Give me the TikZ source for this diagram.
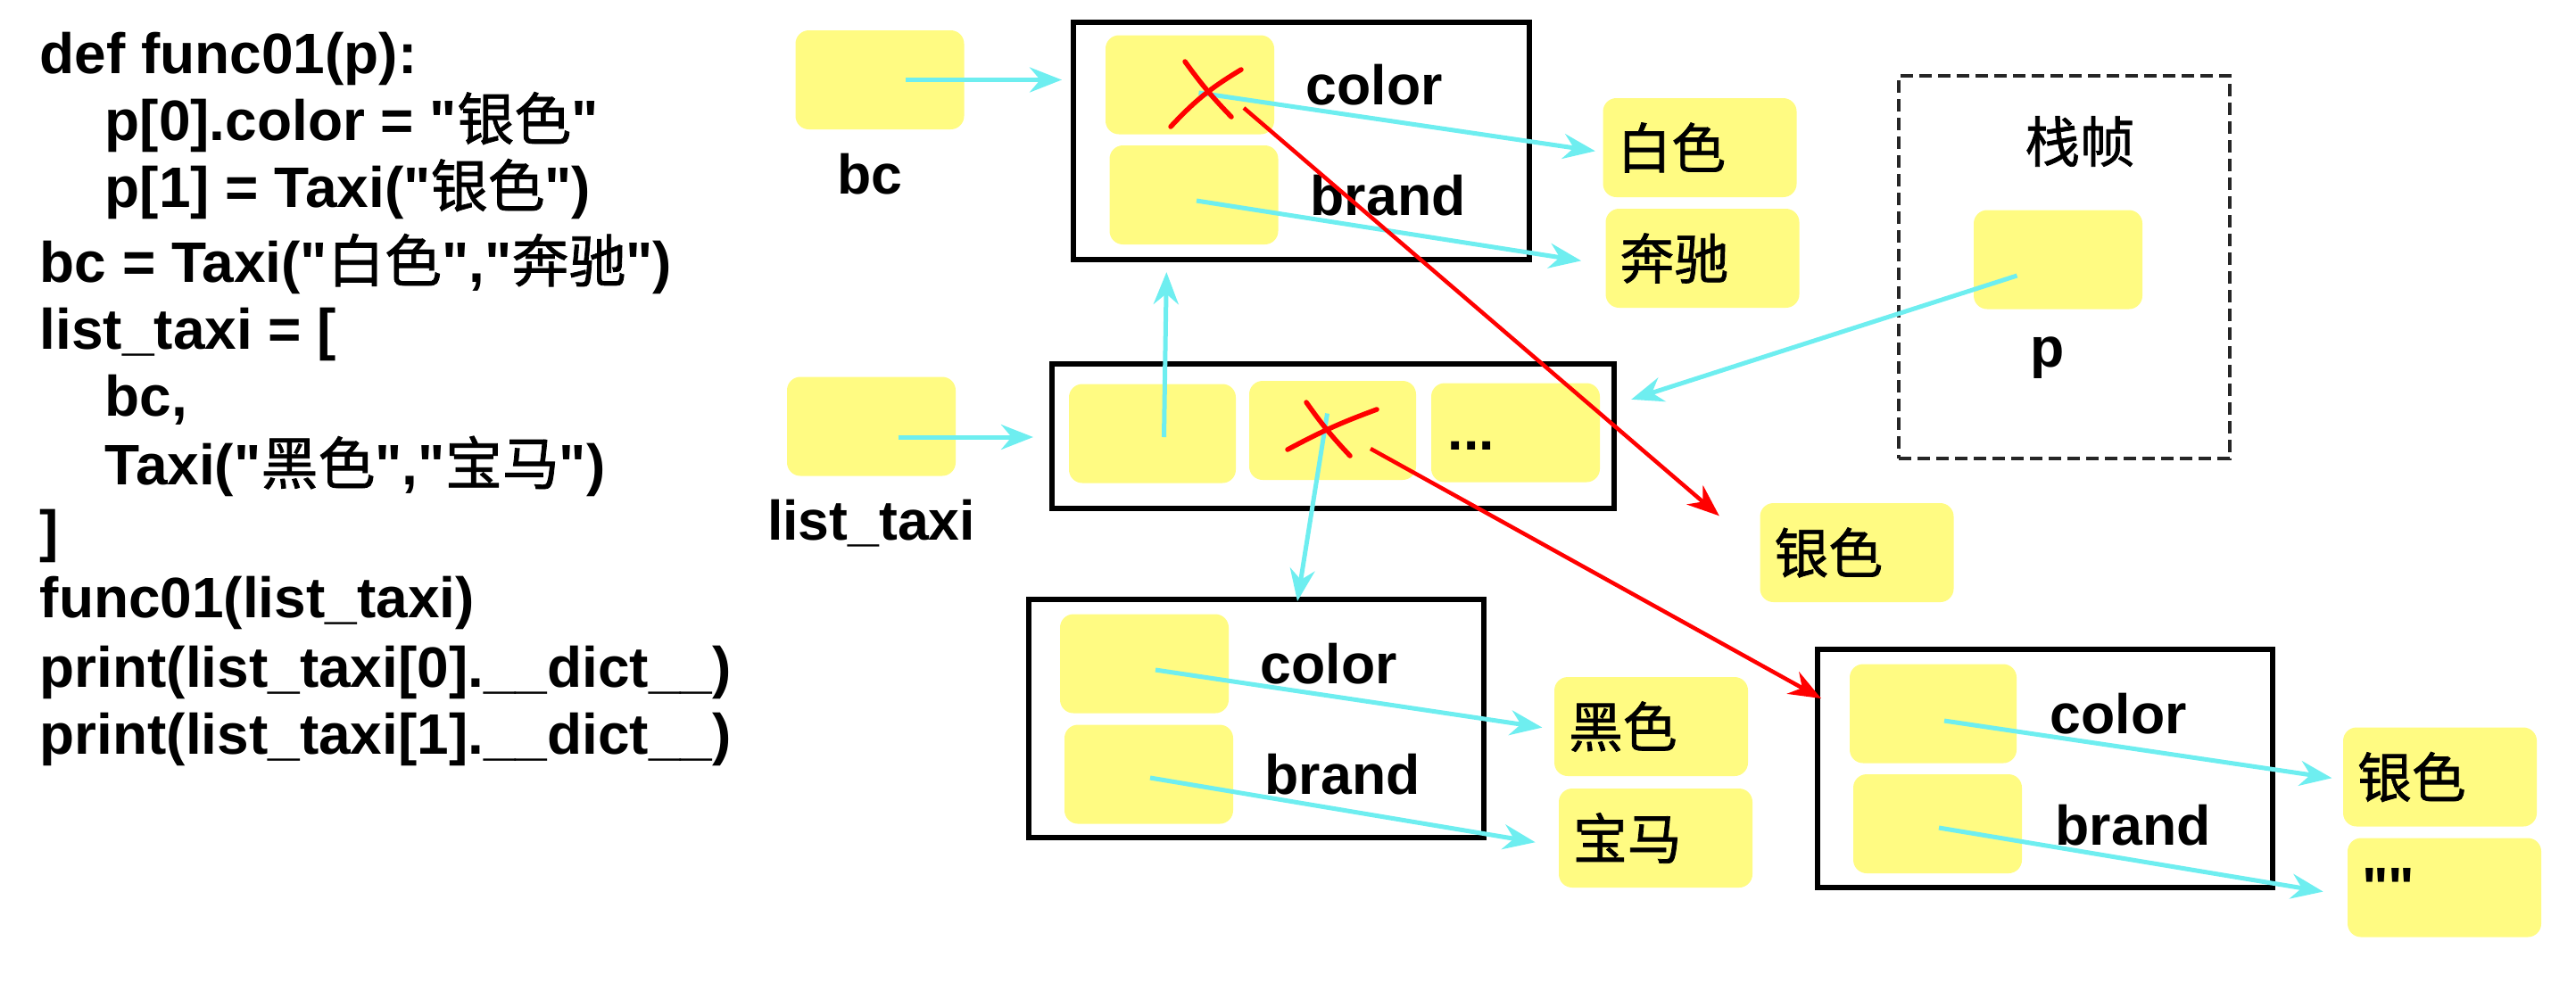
\documentclass[tikz,border=0pt]{standalone}
\usepackage{fontspec}
\setmainfont{Liberation Sans}[Ligatures=TeXOff]
\newfontfamily\zhfont{Noto Sans CJK SC}[Ligatures=TeXOff, BoldFont=*, BoldFeatures={FakeBold=1.2}]
\usetikzlibrary{arrows.meta}

\newcommand{\zh}[1]{{\zhfont #1}}
\definecolor{slotyellow}{RGB}{255,251,130}
\definecolor{refcyan}{RGB}{110,238,240}

\begin{document}
\begin{tikzpicture}

  % Styles
  \tikzset{
    code line/.style={anchor=base west, inner sep=0pt, font=\fontsize{18.2}{21}\selectfont\bfseries},
    field label/.style={anchor=base west, inner sep=0pt, font=\fontsize{17.8}{21}\selectfont\bfseries},
    var label/.style={anchor=base, inner sep=0pt, font=\fontsize{17.8}{21}\selectfont\bfseries},
    slot/.style={fill=slotyellow, rounded corners=0.15cm, minimum width=1.89cm, minimum height=1.11cm, inner sep=0pt},
    value box/.style={slot, minimum width=2.17cm, text width=1.85cm, inner xsep=0.16cm, align=left,
      font=\fontsize{17.3}{20}\selectfont\zhfont\bfseries},
    object/.style={draw=black, line width=0.06cm, minimum width=5.1cm, minimum height=2.67cm, inner sep=0pt},
    frame box/.style={draw=black!85, line width=0.04cm, dash pattern=on 0.14cm off 0.07cm},
    pointer/.style={draw=refcyan, line width=0.05cm, -{Stealth[length=0.36cm, width=0.28cm]}},
    new pointer/.style={draw=red, line width=0.045cm, -{Stealth[length=0.36cm, width=0.28cm]}},
    strike/.style={draw=red, line width=0.055cm, line cap=round}
  }

  \useasboundingbox (0,0) rectangle (28.87,-11.10);

  % --- CODE ---
  \foreach \codetxt/\xx/\yy [count=\i] in {
      {def func01(p):}/0.44/0.82,
      {p[0].color = "\zh{银色}"}/1.17/1.57,
      {p[1] = Taxi("\zh{银色}")}/1.17/2.32,
      {bc = Taxi("\zh{白色}","\zh{奔驰}")}/0.44/3.16,
      {list\_taxi = [}/0.44/3.91,
      {bc,}/1.17/4.66,
      {Taxi("\zh{黑色}","\zh{宝马}")}/1.17/5.43,
      {]}/0.44/6.17,
      {func01(list\_taxi)}/0.44/6.92,
      {print(list\_taxi[0].\_\_dict\_\_)}/0.44/7.70,
      {print(list\_taxi[1].\_\_dict\_\_)}/0.44/8.45}
    \node[code line] (code\i) at (\xx,-\yy) {\codetxt};

  % --- OBJECT FRAMES ---
  \node[object, minimum width=5.11cm, minimum height=2.665cm] (bcobj) at (14.585,-1.578) {};
  \node[object, minimum width=6.30cm, minimum height=1.62cm] (listobj) at (14.94,-4.89) {};
  \node[object] (obj2) at (14.08,-8.055) {};
  \node[object] (obj3) at (22.92,-8.615) {};
  \node[frame box, minimum width=3.71cm, minimum height=4.29cm] (frame) at (23.135,-2.995) {};

  % --- VARIABLES ---
  \node[slot] (bcvar) at (9.86,-0.895) {};
  \node[var label] (bclbl) at (9.75,-2.17) {bc};
  \node[slot] (listvar) at (9.765,-4.78) {};
  \node[var label] (listlbl) at (9.765,-6.05) {list\_taxi};
  \node[slot] (pvar) at (23.065,-2.91) {};
  \node[var label] (plbl) at (22.95,-4.11) {p};
  \node[font=\fontsize{17.5}{20}\selectfont\zhfont\bfseries] (framelbl) at (23.31,-1.585) {栈帧};

  % --- SLOTS ---
  \node[slot] (bcc) at (13.335,-0.95) {};
  \node[slot] (bcb) at (13.38,-2.185) {};
  \node[slot, minimum width=1.87cm] (el1) at (12.915,-4.86) {};
  \node[slot, minimum width=1.87cm] (el2) at (14.935,-4.825) {};
  \node[slot] (el3) at (16.985,-4.85) {};
  \node[slot] (o2c) at (12.825,-7.44) {};
  \node[slot] (o2b) at (12.875,-8.68) {};
  \node[slot, minimum width=1.87cm] (o3c) at (21.665,-8.00) {};
  \node[slot] (o3b) at (21.715,-9.235) {};

  \node[field label] (color1) at (14.63,-1.17) {color};
  \node[field label] (brand1) at (14.68,-2.41) {brand};
  \node[field label] (dots) at (16.22,-5.04) {...};
  \node[field label] (color2) at (14.12,-7.66) {color};
  \node[field label] (brand2) at (14.17,-8.90) {brand};
  \node[field label] (color3) at (22.97,-8.22) {color};
  \node[field label] (brand3) at (23.03,-9.47) {brand};

  % --- VALUES ---
  \node[value box] (white) at (19.05,-1.655) {白色};
  \node[value box] (benz) at (19.08,-2.895) {奔驰};
  \node[value box] (silver1) at (20.81,-6.195) {银色};
  \node[value box] (black) at (18.505,-8.145) {黑色};
  \node[value box] (bmw) at (18.555,-9.395) {宝马};
  \node[value box] (silver2) at (27.345,-8.71) {银色};
  \node[value box, font=\fontsize{17.8}{21}\selectfont\bfseries] (empty) at (27.395,-9.95) {""};

  % --- REFERENCES ---
  \draw[pointer, shorten <=0.29cm, shorten >=0.1cm] (bcvar.center) -- (bcvar.center -| bcobj.west);
  \draw[pointer, shorten <=0.3cm, shorten >=0.18cm] ([yshift=-0.12cm]listvar.center) -- ([yshift=-0.12cm]listvar.center -| listobj.west);
  \draw[pointer, shorten >=0.11cm] ([xshift=0.13cm,yshift=-0.04cm]el1.center) -- ([xshift=0.16cm]el1.center |- bcobj.south);
  \draw[pointer] ([xshift=-0.06cm,yshift=0.19cm]el2.center) -- ([xshift=0.46cm,yshift=-0.05cm]obj2.north);
  \draw[pointer, shorten >=0.08cm] ([xshift=0.1cm,yshift=-0.09cm]bcc.center) -- ([yshift=-0.05cm]white.west);
  \draw[pointer, shorten >=0.27cm] ([xshift=0.03cm,yshift=-0.065cm]bcb.center) -- ([yshift=-0.07cm]benz.west);
  \draw[pointer, shorten >=0.13cm] ([xshift=0.125cm,yshift=-0.07cm]o2c.center) -- ([yshift=-0.03cm]black.west);
  \draw[pointer, shorten >=0.26cm] ([xshift=0.015cm,yshift=-0.04cm]o2b.center) -- ([yshift=-0.09cm]bmw.west);
  \draw[pointer, shorten >=0.12cm] ([xshift=0.125cm,yshift=-0.08cm]o3c.center) -- ([yshift=-0.03cm]silver2.west);
  \draw[pointer, shorten >=0.27cm] ([xshift=0.015cm,yshift=-0.045cm]o3b.center) -- ([yshift=-0.09cm]empty.west);
  \draw[pointer, shorten >=0.17cm] ([xshift=-0.46cm,yshift=-0.18cm]pvar.center) -- ([yshift=0.36cm]listobj.east);

  % --- CROSSED OUT SLOTS ---
  \draw[strike] ([xshift=-0.055cm,yshift=0.26cm]bcc.center) to[bend right=4] ([xshift=0.465cm,yshift=-0.36cm]bcc.center);
  \draw[strike] ([xshift=-0.215cm,yshift=-0.47cm]bcc.center) to[bend left=8] ([xshift=0.575cm,yshift=0.17cm]bcc.center);
  \draw[strike] ([xshift=-0.295cm,yshift=0.315cm]el2.center) to[bend right=4] ([xshift=0.195cm,yshift=-0.285cm]el2.center);
  \draw[strike] ([xshift=-0.505cm,yshift=-0.215cm]el2.center) to[bend left=4] ([xshift=0.495cm,yshift=0.235cm]el2.center);

  % --- NEW REFERENCES ---
  \draw[new pointer] ([xshift=0.605cm,yshift=-0.26cm]bcc.center) -- ([xshift=-0.45cm,yshift=-0.15cm]silver1.north west);
  \draw[new pointer] ([xshift=0.425cm,yshift=-0.205cm]el2.center) -- ([xshift=0.07cm,yshift=-0.58cm]obj3.north west);

\end{tikzpicture}
\end{document}
